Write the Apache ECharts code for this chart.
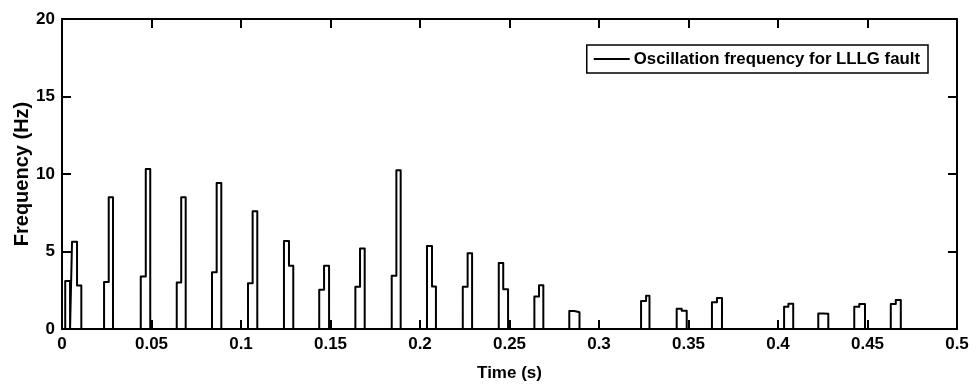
<!DOCTYPE html>
<html>
<head>
<meta charset="utf-8">
<script src="https://cdn.jsdelivr.net/npm/echarts@6/dist/echarts.min.js"></script>
<style>
  html, body { margin: 0; padding: 0; background: #fff; }
  #chart { width: 977px; height: 386px; }
</style>
</head>
<body>
<div id="chart"></div>
<script>
// Pulse timing (s) and levels (Hz)
const riseTimes = [0.0018, 0.0056, 0.0235, 0.0440, 0.0641, 0.0838, 0.1039, 0.1240, 0.1437, 0.1639, 0.1842, 0.2039, 0.2239, 0.2440, 0.2639, 0.2834, 0.3235, 0.3434, 0.3631, 0.4034, 0.4225, 0.4426, 0.4630];
const stepTimes = [0.0030, 0.0084, 0.0261, 0.0468, 0.0666, 0.0864, 0.1065, 0.1268, 0.1464, 0.1665, 0.1868, 0.2067, 0.2266, 0.2465, 0.2665, 0.2862, 0.3263, 0.3462, 0.3659, 0.4058, 0.4251, 0.4454, 0.4658];
const fallTimes = [0.0045, 0.0108, 0.0285, 0.0493, 0.0691, 0.0890, 0.1091, 0.1292, 0.1492, 0.1691, 0.1892, 0.2089, 0.2291, 0.2492, 0.2689, 0.2891, 0.3282, 0.3490, 0.3687, 0.4085, 0.4281, 0.4486, 0.4686];
const firstLevels = [3.10, 5.63, 3.03, 3.38, 3.00, 3.66, 2.95, 5.68, 2.54, 2.73, 3.44, 5.36, 2.73, 4.26, 2.09, 1.16, 1.80, 1.31, 1.72, 1.44, 1.00, 1.44, 1.61];
const secondLevels = [3.10, 2.80, 8.50, 10.32, 8.50, 9.42, 7.60, 4.08, 4.08, 5.20, 10.24, 2.75, 4.88, 2.56, 2.82, 1.08, 2.15, 1.18, 2.00, 1.63, 0.98, 1.61, 1.87];

const xTickLabels = ['0', '0.05', '0.1', '0.15', '0.2', '0.25', '0.3', '0.35', '0.4', '0.45', '0.5'];
const yTickLabels = ['0', '5', '10', '15', '20'];
const seriesName = 'Oscillation frequency for LLLG fault';

// Build step waveform
const points = [[0, 0]];
for (let i = 0; i < riseTimes.length; i++) {
  points.push([riseTimes[i], 0]);
  points.push([riseTimes[i], firstLevels[i]]);
  points.push([stepTimes[i], firstLevels[i]]);
  points.push([stepTimes[i], secondLevels[i]]);
  points.push([fallTimes[i], secondLevels[i]]);
  points.push([fallTimes[i], 0]);
}
points.push([0.5, 0]);

const font = 'Liberation Sans, Arial, sans-serif';
const axisCommon = {
  axisLine: { show: true, onZero: false, lineStyle: { color: '#000', width: 2 } },
  axisTick: { show: true, inside: true, length: 9, lineStyle: { color: '#000', width: 2 } },
  splitLine: { show: false }
};

const chart = echarts.init(document.getElementById('chart'), null, { renderer: 'canvas' });
chart.setOption({
  animation: false,
  backgroundColor: '#fff',
  grid: { left: 62, right: 20, top: 19, bottom: 57, containLabel: false, outerBoundsMode: 'none' },
  legend: {
    data: [seriesName],
    right: 49,
    top: 45,
    padding: [5, 8, 5, 7],
    borderColor: '#000',
    borderWidth: 1.5,
    borderRadius: 0,
    itemWidth: 36,
    itemHeight: 2,
    icon: 'rect',
    itemStyle: { color: '#000' },
    textStyle: { color: '#000', fontFamily: font, fontWeight: 'bold', fontSize: 16.8, lineHeight: 18, padding: [0, 0, 0, -1] }
  },
  xAxis: [
    Object.assign({
      type: 'value', min: 0, max: 0.5, interval: 0.05, position: 'bottom',
      name: 'Time (s)', nameLocation: 'middle', nameGap: 36, nameMoveOverlap: false,
      nameTextStyle: { color: '#000', fontFamily: font, fontWeight: 'bold', fontSize: 17 },
      axisLabel: {
        color: '#000', fontFamily: font, fontWeight: 'bold', fontSize: 17, margin: 7,
        formatter: v => xTickLabels[Math.round(v / 0.05)]
      }
    }, axisCommon),
    Object.assign({
      type: 'value', min: 0, max: 0.5, interval: 0.05, position: 'top',
      axisLabel: { show: false }
    }, axisCommon)
  ],
  yAxis: [
    Object.assign({
      type: 'value', min: 0, max: 20, interval: 5, position: 'left',
      name: 'Frequency (Hz)', nameLocation: 'middle', nameGap: 30, nameRotate: 90, nameMoveOverlap: false,
      nameTextStyle: { color: '#000', fontFamily: font, fontWeight: 'bold', fontSize: 20 },
      axisLabel: {
        color: '#000', fontFamily: font, fontWeight: 'bold', fontSize: 17, margin: 7,
        formatter: v => yTickLabels[Math.round(v / 5)]
      }
    }, axisCommon),
    Object.assign({
      type: 'value', min: 0, max: 20, interval: 5, position: 'right',
      axisLabel: { show: false }
    }, axisCommon)
  ],
  series: [{
    name: seriesName,
    type: 'line',
    xAxisIndex: 0,
    yAxisIndex: 0,
    data: points,
    showSymbol: false,
    symbol: 'none',
    lineStyle: { color: '#000', width: 2, join: 'round', cap: 'round' },
    itemStyle: { color: '#000' }
  }]
});
</script>
</body>
</html>
